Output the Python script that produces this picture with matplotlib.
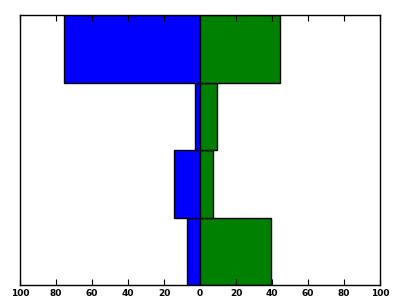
import matplotlib
matplotlib.use("Agg")
import matplotlib.pyplot as plt
from matplotlib.ticker import FuncFormatter

positions = [0, 1, 2, 3]
left_values = [-7, -14.5, -3, -75.5]
right_values = [39.3, 7.3, 9.6, 44.3]
xticks = [-100, -80, -60, -40, -20, 0, 20, 40, 60, 80, 100]

fig = plt.figure(figsize=(4, 3), dpi=100)
ax = fig.add_axes([0.05, 0.05, 0.9, 0.9])
ax.barh(positions, left_values, height=1.0, align='edge', color='#0000ff', edgecolor='black', linewidth=1)
ax.barh(positions, right_values, height=1.0, align='edge', color='#008000', edgecolor='black', linewidth=1)
ax.set_xlim(-100, 100)
ax.set_ylim(0, 4)
ax.set_xticks(xticks)
ax.xaxis.set_major_formatter(FuncFormatter(lambda v, p: f"{abs(int(round(v)))}"))
ax.set_yticks([])
ax.tick_params(axis='x', direction='in', top=True, bottom=True, length=4, width=0.8, labelsize=6.5, pad=3)
for lbl in ax.get_xticklabels():
    lbl.set_fontweight('bold')
for s in ax.spines.values():
    s.set_linewidth(1)
fig.savefig("out.png", dpi=100)
